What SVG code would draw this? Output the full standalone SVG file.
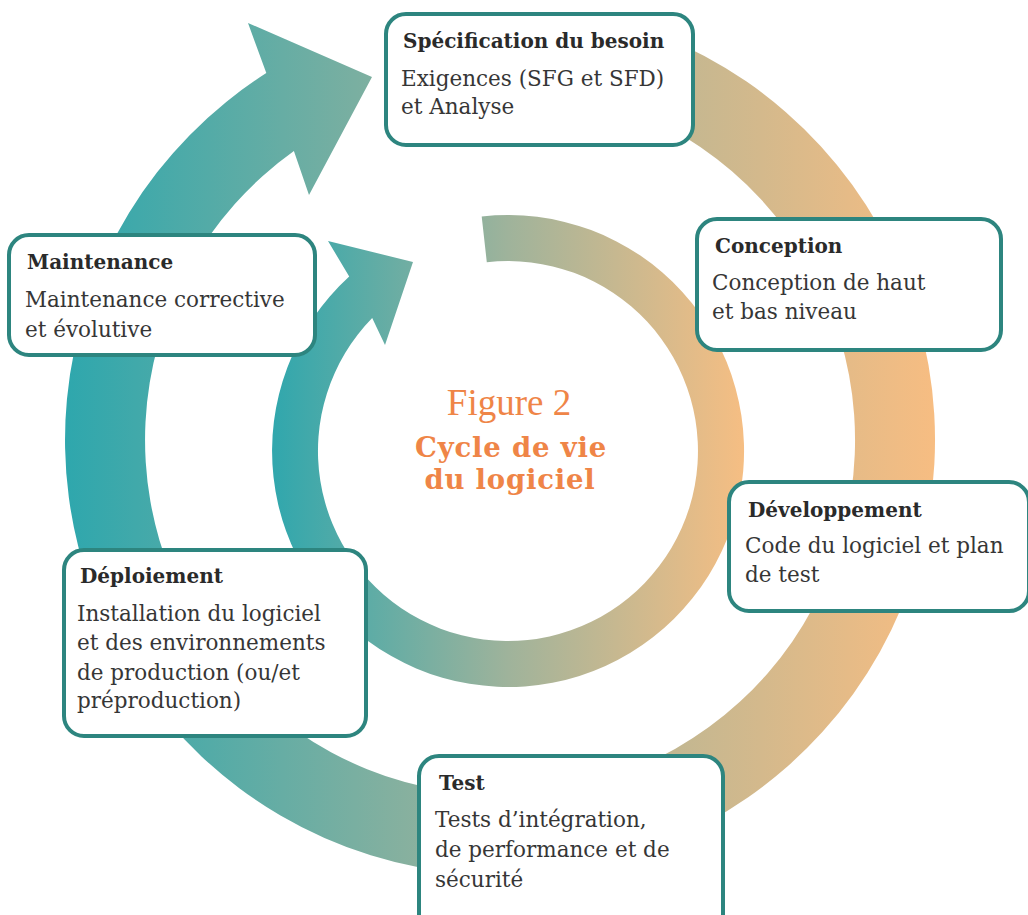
<svg xmlns="http://www.w3.org/2000/svg" width="1028" height="915" viewBox="0 0 1028 915">
  <defs>
    <linearGradient id="gOuter" gradientUnits="userSpaceOnUse" x1="65" y1="0" x2="935" y2="0">
      <stop offset="0" stop-color="#2ea7ad"/>
      <stop offset="0.5" stop-color="#9fb39b"/>
      <stop offset="1" stop-color="#f7bd82"/>
    </linearGradient>
    <linearGradient id="gInner" gradientUnits="userSpaceOnUse" x1="272" y1="0" x2="745" y2="0">
      <stop offset="0" stop-color="#30a7ad"/>
      <stop offset="0.5" stop-color="#9fb39b"/>
      <stop offset="1" stop-color="#f6be83"/>
    </linearGradient>
    <style>
      .box { fill: #ffffff; stroke: #2d857f; stroke-width: 4; }
      .title { font-family: "DejaVu Serif", serif; font-weight: bold; font-size: 20px; fill: #2a2a2a; }
      .body { font-family: "DejaVu Serif", serif; font-size: 21.5px; fill: #363636; }
      .fig { font-family: "Liberation Serif", serif; font-size: 37px; fill: #ef8547; text-anchor: middle; }
      .cyc { font-family: "DejaVu Serif", serif; font-weight: bold; font-size: 27.5px; letter-spacing: 0.8px; fill: #ef8547; text-anchor: middle; }
    </style>
  </defs>

  <g id="connectors">
    <path id="outer-ring" fill="url(#gOuter)" d="M 612.6 19.8 A 435 435 0 1 1 266.3 73.1 L 248 23 L 372 77 L 309 195 L 293.9 151 A 355 355 0 1 0 591.9 97.1 Z"/>
    <path id="inner-ring" fill="url(#gInner)" d="M 481.7 216.5 A 236 236 0 1 1 349.2 276.5 L 328 241 L 413 262 L 385 345 L 372.2 318.1 A 190 190 0 1 0 486.8 262.2 Z"/>
  </g>

  <g id="center-title">
    <text class="fig" x="509" y="415">Figure 2</text>
    <text class="cyc" x="511" y="457">Cycle de vie</text>
    <text class="cyc" x="510" y="489">du logiciel</text>
  </g>

  <g id="node-specification">
    <rect class="box" x="386" y="14" width="307" height="131" rx="20"/>
    <text class="title" x="403" y="48">Spécification du besoin</text>
    <text class="body" x="401" y="86">Exigences (SFG et SFD)</text>
    <text class="body" x="401" y="114">et Analyse</text>
  </g>

  <g id="node-conception">
    <rect class="box" x="697" y="219" width="304" height="131" rx="20"/>
    <text class="title" x="715" y="253">Conception</text>
    <text class="body" x="712" y="290">Conception de haut</text>
    <text class="body" x="712" y="319">et bas niveau</text>
  </g>

  <g id="node-developpement">
    <rect class="box" x="729" y="482" width="300" height="129" rx="20"/>
    <text class="title" x="748" y="517">Développement</text>
    <text class="body" x="745" y="553">Code du logiciel et plan</text>
    <text class="body" x="745" y="582">de test</text>
  </g>

  <g id="node-test">
    <rect class="box" x="419" y="756" width="304" height="180" rx="20"/>
    <text class="title" x="439" y="790">Test</text>
    <text class="body" x="435" y="827">Tests d’intégration,</text>
    <text class="body" x="435" y="857">de performance et de</text>
    <text class="body" x="435" y="887">sécurité</text>
  </g>

  <g id="node-deploiement">
    <rect class="box" x="64" y="550" width="302" height="186" rx="20"/>
    <text class="title" x="80" y="583">Déploiement</text>
    <text class="body" x="77" y="621">Installation du logiciel</text>
    <text class="body" x="77" y="650">et des environnements</text>
    <text class="body" x="77" y="680">de production (ou/et</text>
    <text class="body" x="77" y="708">préproduction)</text>
  </g>

  <g id="node-maintenance">
    <rect class="box" x="9" y="235" width="306" height="120" rx="20"/>
    <text class="title" x="27" y="269">Maintenance</text>
    <text class="body" x="25" y="307">Maintenance corrective</text>
    <text class="body" x="25" y="337">et évolutive</text>
  </g>
</svg>
